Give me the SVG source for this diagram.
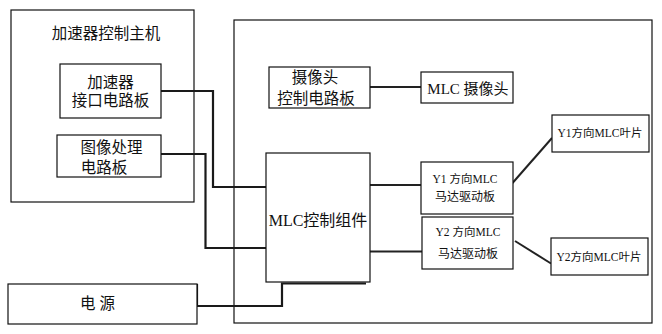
<svg xmlns="http://www.w3.org/2000/svg" width="662" height="334" viewBox="0 0 662 334">
<style>
.box{fill:#fff;stroke:#111;stroke-width:1.2}
.frame{fill:none;stroke:#111;stroke-width:1.2}
.t{font-family:"Liberation Serif","Noto Sans CJK SC",serif;fill:#111;text-anchor:middle;dominant-baseline:central}
.c{fill:none;stroke:#1a1a1a;stroke-width:2.2}
.d{fill:none;stroke:#222;stroke-width:2}
</style>
<rect width="662" height="334" fill="#fff"/>
<g id="host">
<rect class="frame" x="11" y="10" width="183" height="192"/>
<text class="t" x="106" y="33" font-size="15.5">加速器控制主机</text>
</g>
<g id="mlc-frame">
<rect class="frame" x="234" y="20" width="418" height="303"/>
</g>
<g id="connectors">
<polyline class="c" points="161,91 213,91 213,187 266,187"/>
<polyline class="c" points="161,154 205.5,154 205.5,248 266,248"/>
<polyline class="c" points="197,306 282,306 282,283.5 366,283.5"/>
<line class="c" x1="197" y1="284" x2="197" y2="306"/>
<line class="d" x1="370" y1="87" x2="421" y2="87"/>
<line class="d" x1="370" y1="185" x2="421" y2="185"/>
<line class="d" x1="370" y1="251.5" x2="422" y2="251.5"/>
<line class="d" x1="512.5" y1="183" x2="552" y2="138"/>
<line class="d" x1="515" y1="241" x2="551" y2="263.5"/>
</g>
<g id="accel-board">
<rect class="box" x="60" y="64" width="101" height="54"/>
<text class="t" x="110.5" y="82" font-size="15.5">加速器</text>
<text class="t" x="110.5" y="100" font-size="15.5">接口电路板</text>
</g>
<g id="image-board">
<rect class="box" x="57" y="135" width="104" height="42"/>
<text class="t" x="111.5" y="147" font-size="15.5">图像处理</text>
<text class="t" x="104" y="167" font-size="15.5">电路板</text>
</g>
<g id="power">
<rect class="box" x="8" y="284" width="189" height="40"/>
<text class="t" x="97.5" y="303" font-size="15.5">电 源</text>
</g>
<g id="camera-board">
<rect class="box" x="269" y="67" width="101" height="41"/>
<text class="t" x="315" y="77" font-size="15.5">摄像头</text>
<text class="t" x="316" y="98" font-size="15.5">控制电路板</text>
</g>
<g id="mlc-camera">
<rect class="box" x="421" y="72" width="92" height="31"/>
<text class="t" x="468" y="89" font-size="15">MLC 摄像头</text>
</g>
<g id="mlc-control">
<rect class="box" x="266" y="153" width="104" height="129"/>
<text class="t" x="318" y="220" font-size="16">MLC控制组件</text>
</g>
<g id="y1-driver">
<rect class="box" x="421" y="162" width="92" height="52"/>
<text class="t" x="465" y="179" font-size="11.5">Y1 方向MLC</text>
<text class="t" x="465" y="197" font-size="12">马达驱动板</text>
</g>
<g id="y2-driver">
<rect class="box" x="422" y="217" width="91" height="52"/>
<text class="t" x="468" y="232" font-size="11.5">Y2 方向MLC</text>
<text class="t" x="468" y="254" font-size="12">马达驱动板</text>
</g>
<g id="y1-leaf">
<rect class="box" x="552" y="115" width="97" height="37"/>
<text class="t" x="600" y="133" font-size="11.5">Y1方向MLC叶片</text>
</g>
<g id="y2-leaf">
<rect class="box" x="551" y="238" width="97" height="37"/>
<text class="t" x="599" y="257" font-size="11.5">Y2方向MLC叶片</text>
</g>
</svg>
